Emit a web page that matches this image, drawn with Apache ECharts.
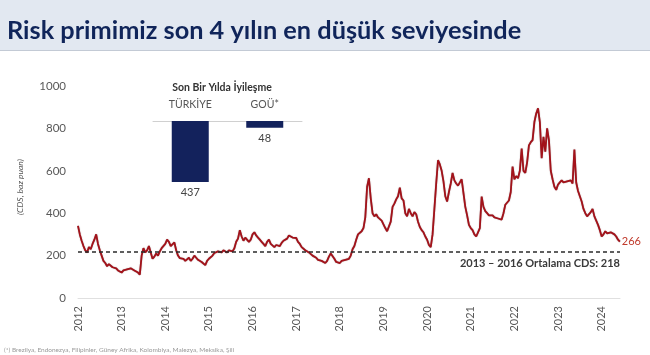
<!DOCTYPE html>
<html><head><meta charset="utf-8">
<script src="https://cdn.jsdelivr.net/npm/echarts@6/dist/echarts.min.js"></script>
<style>html,body{margin:0;padding:0;background:#fff}#c{width:650px;height:355px}</style>
</head><body><div id="c"></div>
<script>
// Semi-monthly CDS readings (24 per year)
const cds2012 = [340,300,270,245,225,215,240,230,255,275,300,255,225,200,175,165,150,160,155,145,150,140,130,125];
const cds2013 = [120,130,125,135,128,140,142,130,125,120,110,200,235,215,225,245,215,185,195,210,200,220,235,230];
const cds2014 = [255,275,265,245,250,262,225,200,188,180,185,175,180,190,175,185,200,190,180,185,170,165,155,175];
const cds2015 = [185,190,200,212,205,220,228,215,225,222,215,225,230,220,235,265,280,320,290,270,285,290,265,275];
const cds2016 = [300,310,295,285,275,265,255,245,265,275,255,250,240,250,255,245,260,270,265,280,295,300,285,290];
const cds2017 = [283,265,255,240,235,225,222,215,210,200,200,190,180,185,175,170,165,175,195,210,205,185,170,165];
const cds2018 = [165,175,170,180,172,185,200,230,245,275,300,295,315,330,380,525,565,470,400,385,395,380,375,365];
const cds2019 = [365,330,315,320,360,430,445,465,480,520,470,460,400,385,420,400,385,405,395,360,335,320,310,290];
const cds2020 = [275,250,240,300,420,540,650,630,600,550,480,455,500,540,590,555,540,530,525,560,560,430,390,345];
const cds2021 = [330,320,300,290,310,330,478,430,410,400,390,385,390,380,385,375,380,370,400,440,445,460,500,620];
const cds2022 = [560,575,565,600,705,600,590,640,720,735,745,830,870,895,830,660,760,690,800,745,600,560,525,510];
const cds2023 = [535,545,555,545,540,550,545,555,540,700,545,505,480,455,420,400,385,390,405,420,385,365,345,320];
const cds2024 = [290,300,315,305,300,310,318,300,290,275,266];
const startYears = [2012,2013,2014,2015,2016,2017,2018,2019,2020,2021,2022,2023,2024];
const yearly = [cds2012,cds2013,cds2014,cds2015,cds2016,cds2017,cds2018,cds2019,cds2020,cds2021,cds2022,cds2023,cds2024];
const avgCDS = 218;
const avgLabel = '2013 – 2016 Ortalama CDS: 218';
const insetCats = ['TÜRKİYE','GOÜ*'];
const insetVals = [437, 48];
const yTicks = [0,200,400,600,800,1000];

const series = [];
yearly.forEach((arr, k) => arr.forEach((v, i) => series.push([startYears[k] + i / 24, v])));
const lastVal = series[series.length - 1][1];

const chart = echarts.init(document.getElementById('c'));
const FONT = 'Lato, "Open Sans", sans-serif';
chart.setOption({
  animation: false,
  textStyle: {fontFamily: FONT},
  graphic: [
    {type:'rect', shape:{x:0,y:0,width:650,height:50}, style:{fill:'#e2e8f1'}, z:0},
    {type:'rect', shape:{x:0,y:50,width:650,height:1}, style:{fill:'#c3cad5'}, z:0},
    {type:'text', x:7, y:31, style:{text:'Risk primimiz son 4 yılın en düşük seviyesinde', fill:'#10255a', font:'bold 25.3px ' + FONT, textVerticalAlign:'middle'}},
    {type:'text', x:222, y:88, style:{text:'Son Bir Yılda İyileşme', fill:'#333', font:'bold 10.5px ' + FONT, textAlign:'center', textVerticalAlign:'middle'}},
    {type:'text', x:20, y:187, rotation:Math.PI/2, style:{text:'(CDS, baz puan)', fill:'#555', font:'italic 8.5px ' + FONT, textAlign:'center', textVerticalAlign:'middle'}},
    {type:'text', x:4, y:350, style:{text:'(*) Brezilya, Endonezya, Filipinler, Güney Afrika, Kolombiya, Malezya, Meksika, Şili', fill:'#9a9a9a', font:'6.5px ' + FONT, textVerticalAlign:'middle'}}
  ],
  grid: [
    {left:78, right:30, top:86, bottom:57},
    {left:153, width:149, top:121, height:61}
  ],
  xAxis: [
    {type:'value', gridIndex:0, min:2012, max:2024.42, interval:1,
     axisLine:{show:true, onZero:false, lineStyle:{color:'#e0e0e0', width:1}}, axisTick:{show:false}, splitLine:{show:false},
     axisLabel:{rotate:90, margin:8, color:'#595959', fontSize:11, showMaxLabel:false,
       formatter: v => Number.isInteger(v) ? String(v) : ''}},
    {type:'category', gridIndex:1, data:insetCats, position:'top',
     axisLine:{show:true, lineStyle:{color:'#d0d0d0', width:1}}, axisTick:{show:false},
     axisLabel:{color:'#555', fontSize:10.5, margin:11}}
  ],
  yAxis: [
    {type:'value', gridIndex:0, min:0, max:1000, interval:200,
     axisLine:{show:false}, axisTick:{show:false}, splitLine:{show:false},
     axisLabel:{color:'#595959', fontSize:11.5, margin:12,
       formatter: v => yTicks.includes(v) ? String(v) : ''}},
    {type:'value', gridIndex:1, min:0, max:437, inverse:true, show:false}
  ],
  series: [
    {type:'line', xAxisIndex:0, yAxisIndex:0, data:series, symbol:'none',
     lineStyle:{color:'#a3121a', width:1.8, shadowColor:'rgba(60,0,0,0.5)', shadowBlur:1},
     endLabel:{show:true, formatter: () => String(lastVal), color:'#c0392b', fontSize:11, distance:2},
     markLine:{symbol:'none', silent:true,
       lineStyle:{color:'#2b2b2b', type:[4,3], width:1.5},
       label:{show:true, position:'insideEndBottom', formatter:avgLabel, color:'#3a3a3a', fontWeight:'bold', fontSize:11, distance:[0,6]},
       data:[{yAxis:avgCDS}]}},
    {type:'bar', xAxisIndex:1, yAxisIndex:1, data:insetVals, barWidth:37,
     itemStyle:{color:'#13225c'},
     label:{show:true, position:'bottom', distance:5, color:'#444', fontSize:11}}
  ]
});
</script></body></html>
